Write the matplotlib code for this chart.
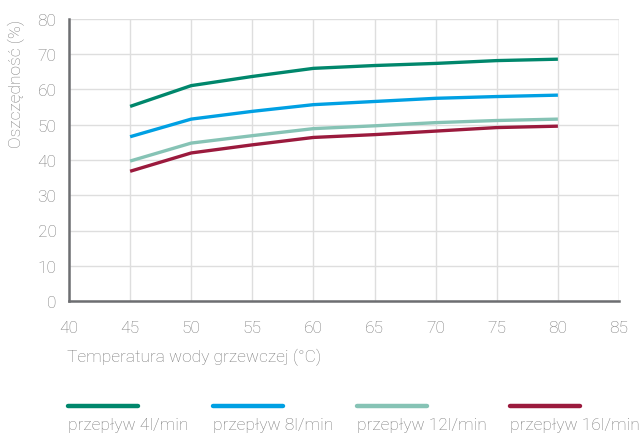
import matplotlib
matplotlib.use("Agg")
import matplotlib.pyplot as plt
from matplotlib.lines import Line2D

temps = [45, 50, 55, 60, 65, 70, 75, 80]
flow_4 = [55.2, 61.1, 63.7, 66.0, 66.8, 67.4, 68.2, 68.6]
flow_8 = [46.6, 51.6, 53.8, 55.7, 56.6, 57.5, 58.0, 58.4]
flow_12 = [39.7, 44.8, 46.9, 48.9, 49.7, 50.6, 51.2, 51.6]
flow_16 = [36.8, 42.0, 44.3, 46.4, 47.2, 48.2, 49.2, 49.6]
series = [flow_4, flow_8, flow_12, flow_16]
labels = ["przepływ 4l/min", "przepływ 8l/min", "przepływ 12l/min", "przepływ 16l/min"]
colors = ["#00876c", "#00a0e3", "#86c3b5", "#9b1a3d"]
xticks = [40, 45, 50, 55, 60, 65, 70, 75, 80, 85]
yticks = [0, 10, 20, 30, 40, 50, 60, 70, 80]

plt.rcParams['font.family'] = ['Roboto', 'DejaVu Sans']
txtc = "#7b7b7b"
W, H = 641, 435
FS = 12.5
FW = 'light'
fig = plt.figure(figsize=(W/100, H/100), dpi=100)
ax = fig.add_axes([69/W, 1-302/H, 550/W, 282/H])

for s, c in zip(series, colors):
    ax.plot(temps, s, color=c, lw=2.4, solid_capstyle='butt', zorder=3)

ax.set_xlim(40, 85)
ax.set_ylim(0, 80)
ax.set_xticks(xticks)
ax.set_yticks(yticks)
ax.grid(True, color="#dedede", lw=1.0, zorder=0)
ax.tick_params(axis='y', length=0, labelsize=FS, labelcolor=txtc, pad=9)
ax.tick_params(axis='x', length=0, labelsize=FS, labelcolor=txtc, pad=14)
for lab in ax.get_xticklabels() + ax.get_yticklabels():
    lab.set_fontweight(FW)
for sp in ['top', 'right']:
    ax.spines[sp].set_visible(False)
for sp in ['left', 'bottom']:
    ax.spines[sp].set_color("#6d6e71")
    ax.spines[sp].set_linewidth(1.8)
    ax.spines[sp].set_zorder(4)
ax.axvline(85, color="#dedede", lw=1.0, zorder=0)

fig.text(16/W, 1-20/H, "Oszczędność (%)", rotation=90, va='top', ha='center',
         fontsize=FS, color=txtc, fontweight=FW)
fig.text(67/W, 1-357/H, "Temperatura wody grzewczej (°C)", va='center', ha='left',
         fontsize=FS, color=txtc, fontweight=FW)

leg_x = [68, 213, 357, 510]
for x0, lab, c in zip(leg_x, labels, colors):
    fig.add_artist(Line2D([x0/W, (x0+70)/W], [1-407/H, 1-407/H], color=c, lw=3.2,
                          solid_capstyle='round', transform=fig.transFigure))
    fig.text(x0/W, 1-426/H, lab, va='center', ha='left', fontsize=FS, color=txtc,
             fontweight=FW)

fig.savefig("out.png", dpi=100)
